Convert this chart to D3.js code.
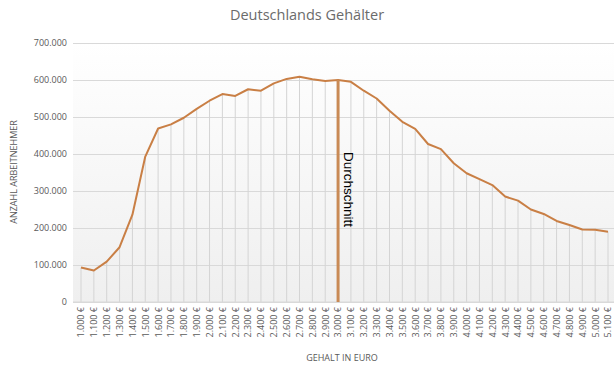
<!DOCTYPE html>
<html><head><meta charset="utf-8">
<script src="https://cdn.jsdelivr.net/npm/d3@7"></script>
<style>body{margin:0;background:#fff}svg{display:block}</style>
</head><body>
<svg id="c" width="614" height="370"></svg>
<script>
const categories = ["1.000 €","1.100 €","1.200 €","1.300 €","1.400 €","1.500 €","1.600 €","1.700 €","1.800 €","1.900 €","2.000 €","2.100 €","2.200 €","2.300 €","2.400 €","2.500 €","2.600 €","2.700 €","2.800 €","2.900 €","3.000 €","3.100 €","3.200 €","3.300 €","3.400 €","3.500 €","3.600 €","3.700 €","3.800 €","3.900 €","4.000 €","4.100 €","4.200 €","4.300 €","4.400 €","4.500 €","4.600 €","4.700 €","4.800 €","4.900 €","5.000 €","5.100 €"];
const employees = [93000,85000,109000,148000,236000,393000,469000,480000,498000,522000,544000,562000,557000,575000,571000,591000,603000,609000,602000,597000,600000,595000,571000,550000,517000,487000,468000,427000,413000,375000,348000,332000,316000,285000,274000,250000,238000,219000,208000,196000,195000,190000];
const averageCategory = "3.000 €";
const averageValue = 600000;
const averageLabel = "Durchschnitt";
const yTicks = [0,100000,200000,300000,400000,500000,600000,700000];
const title = "Deutschlands Gehälter";
const xTitle = "GEHALT IN EURO";
const yTitle = "ANZAHL ARBEITNEHMER";

const svg = d3.select("#c");
const font = "'Open Sans', 'Noto Sans', sans-serif";
const pL = 73, pR = 614, pT = 43, pB = 302;
const x = d3.scalePoint().domain(categories).range([81, 608]);
const y = d3.scaleLinear().domain([0, 700000]).range([pB, pT]);
const fmt = v => d3.format(",")(v).replace(/,/g, ".");

const defs = svg.append("defs");
const g = defs.append("linearGradient").attr("id","bg").attr("x1",0).attr("y1",0).attr("x2",0).attr("y2",1);
g.append("stop").attr("offset","0%").attr("stop-color","#ffffff");
g.append("stop").attr("offset","100%").attr("stop-color","#efefef");
svg.append("rect").attr("x", pL).attr("y", pT).attr("width", pR-pL).attr("height", pB-pT).attr("fill","url(#bg)");

// title
svg.append("text").attr("x", 307).attr("y", 20).attr("text-anchor","middle")
  .attr("font-family", font).attr("font-size", 14.5).attr("fill","#6b6b6b").text(title);

// y grid + axis
const yAxis = d3.axisLeft(y).tickValues(yTicks).tickFormat(fmt).tickSize(-(pR-pL)).tickPadding(6);
const ya = svg.append("g").attr("transform",`translate(${pL},0)`).call(yAxis);
ya.select(".domain").remove();
ya.selectAll(".tick line").attr("stroke","#d9d9d9").attr("stroke-width",1);
ya.selectAll(".tick text").attr("font-family", font).attr("font-size", 9).attr("fill","#595959");

// drop lines
svg.append("g").selectAll("line").data(categories).join("line")
  .attr("x1", d => x(d)).attr("x2", d => x(d))
  .attr("y1", (d,i) => y(employees[i])).attr("y2", y(0))
  .attr("stroke","#d4d4d4").attr("stroke-width",1);

// x axis
const xAxis = d3.axisBottom(x).tickSize(0).tickPadding(0);
const xa = svg.append("g").attr("transform",`translate(0,${pB})`).call(xAxis);
xa.select(".domain").attr("stroke","#d9d9d9").attr("d", `M${pL},0H${pR}`);
xa.selectAll(".tick text").attr("font-family", font).attr("font-size", 9).attr("fill","#595959")
  .attr("text-anchor","end").attr("dy","0.32em")
  .attr("transform","translate(0,5) rotate(-90)").attr("x",0).attr("y",0);

// line
svg.append("path").datum(employees)
  .attr("fill","none").attr("stroke","#c97f45").attr("stroke-width",2).attr("stroke-linejoin","round")
  .attr("d", d3.line().x((d,i) => x(categories[i])).y(d => y(d)));

// average bar
svg.append("line").attr("x1", x(averageCategory)).attr("x2", x(averageCategory))
  .attr("y1", y(averageValue)).attr("y2", y(0))
  .attr("stroke","#c98a55").attr("stroke-width",3);
svg.append("text").attr("transform",`translate(${x(averageCategory)+6},152) rotate(90)`)
  .attr("font-family","'Liberation Sans', Arial, sans-serif").attr("font-size",13.5).attr("fill","#000")
  .text(averageLabel);

// axis titles
svg.append("text").attr("x", 342).attr("y", 361).attr("text-anchor","middle")
  .attr("font-family", font).attr("font-size", 9).attr("fill","#595959").text(xTitle);
svg.append("text").attr("transform",`translate(17,172) rotate(-90)`).attr("text-anchor","middle")
  .attr("font-family", font).attr("font-size", 9).attr("fill","#595959").text(yTitle);
</script>
</body></html>
